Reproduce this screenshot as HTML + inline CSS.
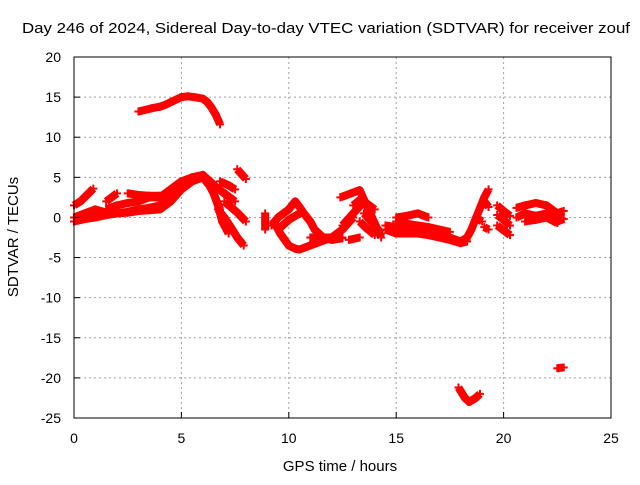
<!DOCTYPE html>
<html><head><meta charset="utf-8"><style>
body{margin:0;background:#fff;}
svg text{font-family:"Liberation Sans",sans-serif;font-size:14px;fill:#000;}
</style></head><body>
<svg id="chart" width="640" height="480" xmlns="http://www.w3.org/2000/svg">
<rect width="640" height="480" fill="#fff"/>
<text x="22" y="33" textLength="608" lengthAdjust="spacingAndGlyphs" style="font-size:15px">Day 246 of 2024, Sidereal Day-to-day VTEC variation (SDTVAR) for receiver zouf</text>
<text x="340" y="471" text-anchor="middle" style="font-size:15px">GPS time / hours</text>
<text transform="translate(18,237) rotate(-90)" text-anchor="middle" style="font-size:15px">SDTVAR / TECUs</text>
<g id="grid"></g><g id="marks"></g><g id="axes"></g>
</svg>
<script>
const xTicks=[0,5,10,15,20,25];
const yTicks=[-25,-20,-15,-10,-5,0,5,10,15,20];
const upperArc=[[3.0,13.2],[3.3,13.4],[3.6,13.6],[4.0,13.8],[4.3,14.1],[4.6,14.5],[5.0,15.0],[5.3,15.1],[5.6,15.0],[6.0,14.8],[6.2,14.4],[6.4,13.7],[6.6,12.8],[6.8,11.6]];
const bandA=[[0,0],[0.5,0.5],[1,1],[1.5,0.6],[2,0.5],[2.5,0.7],[3,1],[3.5,1.2],[4,1.5],[4.5,2.5],[5,4],[5.5,5],[6,5.3],[6.3,4.5],[6.5,3],[6.7,1.5],[6.9,-0.5],[7.2,-2]];
const bandB=[[1.5,1],[2,1.5],[2.5,1.8],[3,2],[3.5,2.5],[4,2.5],[4.5,3.5],[5,4.5],[5.5,5],[6,5.2],[6.3,4.6],[6.6,3.8],[7,3],[7.5,2]];
const bandC=[[0,-0.5],[0.5,-0.2],[1,0],[1.5,0.3],[2,0.5],[2.5,0.6],[3,0.8],[3.5,0.9],[4,1],[4.5,2],[5,3.5],[5.5,4.5],[6,5],[6.3,4],[6.5,3],[6.8,1]];
const startB=[[0,1.5],[0.3,2],[0.6,2.8],[0.9,3.6]];
const seg1=[[1.5,2],[1.8,2.6],[2,3]];
const seg2=[[2.5,3],[3,2.8],[3.5,2.7],[4,2.7]];
const seg3=[[6.7,1],[7,0],[7.3,-1.2],[7.6,-2.5],[7.9,-3.5]];
const seg4=[[7,2],[7.3,1.3],[7.6,0.6],[8,-0.5]];
const seg5=[[7.6,6],[7.8,5.4],[8,4.8]];
const seg6=[[6.8,4.5],[7.2,4],[7.5,3.5]];
const seg7=[[8.9,0.5],[8.9,-0.5],[8.9,-1.5]];
const loopTop=[[9.2,-1],[9.5,0],[9.8,0.6],[10,1],[10.3,2],[10.5,1.3],[10.7,0.5],[11,-0.5],[11.2,-1.5],[11.6,-2.5],[12,-2.8],[12.5,-2.6]];
const loopBot=[[9.3,-0.5],[9.6,-2],[10,-3.5],[10.3,-3.9],[10.5,-4],[11,-3.5],[11.5,-3],[12,-2.5],[12.5,-1.5],[13,0]];
const loopMid=[[9.5,-1.5],[10,-0.3],[10.5,0.5]];
const flat=[[11,-2.5],[11.5,-2.5],[12,-2.5],[12.5,-2.5]];
const s13a=[[12.8,-2.8],[13.3,-2.5]];
const s13b=[[12.5,-1],[13,0.5],[13.5,2],[14,1]];
const s13c=[[13,1.5],[13.4,2.4]];
const s13d=[[13.5,0.5],[14,-1],[14.3,-2]];
const s13e=[[13.3,-0.5],[13.6,-1.3],[14,-2.2]];
const s13f=[[12.4,2.5],[13.3,3.4],[14.3,-2.5]];
const midTop=[[14.5,-1],[15,-1.2],[15.5,-1.5],[16,-1.8],[16.5,-1.5],[17,-2],[17.5,-2.5],[18,-3],[18.3,-2.5],[18.5,-1.5],[18.8,0.5],[19.1,2.5],[19.3,3.5]];
const midBot=[[14.5,-1.5],[15,-2],[15.5,-2],[16,-2],[16.5,-2.2],[17,-2.5],[17.5,-2.8],[18,-3.2],[18.3,-3]];
const midHi=[[15,0],[15.5,0.2],[16,0.5],[16.5,0]];
const midMid=[[15,-0.5],[15.5,-0.8],[16,-1],[16.5,-1.2],[17,-1.5],[17.5,-1.8]];
const d18a=[[18.7,0],[19,-0.5]];
const d18b=[[19.1,2],[19.3,1.3]];
const d18c=[[19.1,-1.2],[19.3,-1.5]];
const d20a=[[19.7,1.5],[20,0.8],[20.3,0.2]];
const d20b=[[19.7,0.3],[20,-0.3],[20.3,-1]];
const d20c=[[19.7,-1],[20,-1.6],[20.3,-2.2]];
const endA=[[20.6,1.2],[21,1.5],[21.5,1.8],[22,1.5],[22.5,0.5],[22.8,0.8]];
const endB=[[20.6,0],[21,0.5],[21.5,0.2],[22,0.5],[22.5,-0.5],[22.8,-0.2]];
const endC=[[21,-0.5],[21.5,-0.3],[22,0],[22.5,-0.7]];
const dip18=[[17.9,-21.2],[18.2,-22.5],[18.4,-23],[18.7,-22.5],[18.9,-22]];
const dip22=[[22.5,-18.8],[22.8,-18.7]];
const series=[upperArc,bandA,bandB,bandC,startB,seg1,seg2,seg3,seg4,seg5,seg6,seg7,loopTop,loopBot,loopMid,flat,s13a,s13b,s13c,s13d,s13e,s13f,midTop,midBot,midHi,midMid,d18a,d18b,d18c,d20a,d20b,d20c,endA,endB,endC,dip18,dip22];

const L=74,R=611,T=57,B=418;
const sx=t=>L+(t-0)/25*(R-L);
const sy=v=>B-(v+25)/45*(B-T);
const NS="http://www.w3.org/2000/svg";
function mk(tag,parent){const e=document.createElementNS(NS,tag);parent.appendChild(e);return e;}
const grid=document.getElementById('grid'),axes=document.getElementById('axes'),marks=document.getElementById('marks');
xTicks.forEach(t=>{
  const x=sx(t);
  if(t>0&&t<25){const g=mk('line',grid);g.setAttribute('x1',x);g.setAttribute('x2',x);g.setAttribute('y1',T);g.setAttribute('y2',B);g.setAttribute('stroke','#a0a0a0');g.setAttribute('stroke-dasharray','2,3');
  
  }
  const tk=mk('line',axes);tk.setAttribute('x1',x);tk.setAttribute('x2',x);tk.setAttribute('y1',B);tk.setAttribute('y2',B-6);tk.setAttribute('stroke','#000');
  
  
  const tx=mk('text',axes);tx.setAttribute('x',x);tx.setAttribute('y',B+25);tx.setAttribute('text-anchor','middle');tx.textContent=t;
  
  
});
yTicks.forEach(v=>{
  const y=sy(v);
  if(v>-25&&v<20){const g=mk('line',grid);g.setAttribute('x1',L);g.setAttribute('x2',R);g.setAttribute('y1',y);g.setAttribute('y2',y);g.setAttribute('stroke','#a0a0a0');g.setAttribute('stroke-dasharray','2,3');
  
  }
  const tk=mk('line',axes);tk.setAttribute('x1',L);tk.setAttribute('x2',L+6);tk.setAttribute('y1',y);tk.setAttribute('y2',y);tk.setAttribute('stroke','#000');
  
  
  const tx=mk('text',axes);tx.setAttribute('x',L-13);tx.setAttribute('y',y+5);tx.setAttribute('text-anchor','end');tx.textContent=v;
  
  
});
const fr=mk('rect',axes);fr.setAttribute('x',L);fr.setAttribute('y',T);fr.setAttribute('width',R-L);fr.setAttribute('height',B-T);fr.setAttribute('fill','none');fr.setAttribute('stroke','#000');


series.forEach(s=>{
  const pl=mk('polyline',marks);
  pl.setAttribute('points',s.map(p=>sx(p[0])+','+sy(p[1])).join(' '));
  pl.setAttribute('fill','none');pl.setAttribute('stroke','#f00');pl.setAttribute('stroke-width','8');pl.setAttribute('stroke-linejoin','round');
  
  
  s.forEach(p=>{
    const x=sx(p[0]),y=sy(p[1]);
    const m=mk('path',marks);
    m.setAttribute('d',`M${x-4},${y}H${x+4}M${x},${y-4}V${y+4}`);
    m.setAttribute('stroke','#f00');m.setAttribute('stroke-width','2');
    
    
  });
});
</script>
</body></html>
